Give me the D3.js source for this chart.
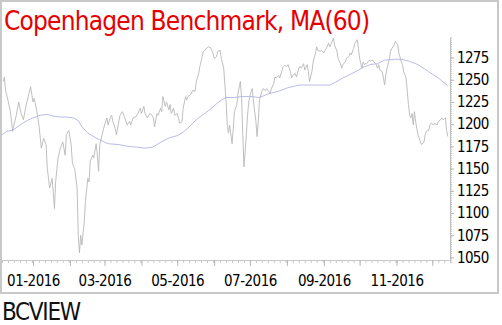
<!DOCTYPE html>
<html>
<head>
<meta charset="utf-8">
<script src="https://cdn.jsdelivr.net/npm/d3@7"></script>
<style>
  body { margin: 0; background: #fff; }
  svg { display: block; }
</style>
</head>
<body>
<div id="chart"></div>
<script>
// daily closes
const priceDates = [
  "2015-12-07","2015-12-08","2015-12-09","2015-12-11","2015-12-13","2015-12-15","2015-12-16","2015-12-18","2015-12-20","2015-12-22",
  "2015-12-24","2015-12-26","2015-12-28","2015-12-30","2016-01-01","2016-01-02","2016-01-04","2016-01-06","2016-01-08","2016-01-10",
  "2016-01-12","2016-01-13","2016-01-15","2016-01-17","2016-01-18","2016-01-19","2016-01-20","2016-01-22","2016-01-24","2016-01-26",
  "2016-01-28","2016-01-29","2016-01-31","2016-02-02","2016-02-03","2016-02-04","2016-02-05","2016-02-07","2016-02-08","2016-02-09",
  "2016-02-10","2016-02-11","2016-02-13","2016-02-14","2016-02-16","2016-02-17","2016-02-18","2016-02-20","2016-02-21","2016-02-23",
  "2016-02-24","2016-02-25","2016-02-26","2016-02-28","2016-03-01","2016-03-03","2016-03-04","2016-03-06","2016-03-07","2016-03-08",
  "2016-03-10","2016-03-11","2016-03-13","2016-03-14","2016-03-16","2016-03-18","2016-03-20","2016-03-22","2016-03-23","2016-03-25",
  "2016-03-27","2016-03-29","2016-03-31","2016-04-01","2016-04-03","2016-04-04","2016-04-06","2016-04-08","2016-04-10","2016-04-11",
  "2016-04-12","2016-04-14","2016-04-15","2016-04-17","2016-04-18","2016-04-19","2016-04-21","2016-04-22","2016-04-24","2016-04-25",
  "2016-04-26","2016-04-28","2016-04-29","2016-05-01","2016-05-02","2016-05-03","2016-05-05","2016-05-06","2016-05-08","2016-05-09",
  "2016-05-10","2016-05-12","2016-05-13","2016-05-14","2016-05-16","2016-05-17","2016-05-19","2016-05-20","2016-05-22","2016-05-23",
  "2016-05-24","2016-05-26","2016-05-27","2016-05-29","2016-05-30","2016-05-31","2016-06-01","2016-06-03","2016-06-04","2016-06-06",
  "2016-06-07","2016-06-09","2016-06-10","2016-06-11","2016-06-12","2016-06-13","2016-06-14","2016-06-16","2016-06-17","2016-06-18",
  "2016-06-20","2016-06-21","2016-06-23","2016-06-24","2016-06-25","2016-06-26","2016-06-28","2016-06-29","2016-06-30","2016-07-02",
  "2016-07-03","2016-07-04","2016-07-06","2016-07-07","2016-07-08","2016-07-09","2016-07-11","2016-07-12","2016-07-14","2016-07-15",
  "2016-07-16","2016-07-18","2016-07-19","2016-07-21","2016-07-22","2016-07-23","2016-07-25","2016-07-26","2016-07-28","2016-07-29",
  "2016-07-30","2016-08-01","2016-08-02","2016-08-04","2016-08-05","2016-08-06","2016-08-08","2016-08-09","2016-08-11","2016-08-12",
  "2016-08-13","2016-08-15","2016-08-16","2016-08-18","2016-08-19","2016-08-20","2016-08-22","2016-08-23","2016-08-25","2016-08-26",
  "2016-08-27","2016-08-29","2016-08-30","2016-09-01","2016-09-02","2016-09-03","2016-09-05","2016-09-06","2016-09-08","2016-09-09",
  "2016-09-10","2016-09-12","2016-09-13","2016-09-15","2016-09-16","2016-09-17","2016-09-19","2016-09-20","2016-09-22","2016-09-23",
  "2016-09-24","2016-09-26","2016-09-27","2016-09-29","2016-09-30","2016-10-01","2016-10-03","2016-10-04","2016-10-05","2016-10-06",
  "2016-10-07","2016-10-09","2016-10-10","2016-10-12","2016-10-13","2016-10-15","2016-10-16","2016-10-17","2016-10-18","2016-10-20",
  "2016-10-21","2016-10-22","2016-10-23","2016-10-24","2016-10-26","2016-10-27","2016-10-28","2016-10-30","2016-10-31","2016-11-02",
  "2016-11-03","2016-11-05","2016-11-06","2016-11-07","2016-11-09","2016-11-10","2016-11-11","2016-11-12","2016-11-13","2016-11-14",
  "2016-11-15","2016-11-16","2016-11-17","2016-11-18","2016-11-19","2016-11-21","2016-11-22","2016-11-24","2016-11-25","2016-11-26",
  "2016-11-28","2016-11-29","2016-11-30","2016-12-02","2016-12-03","2016-12-05","2016-12-06","2016-12-08","2016-12-09","2016-12-10",
  "2016-12-12","2016-12-13","2016-12-14"
];
const priceValues = [
  1248,1253,1238,1227,1214,1192,1199,1210,1225,1212,
  1205,1220,1231,1242,1225,1229,1216,1199,1173,1184,
  1177,1150,1128,1139,1124,1105,1135,1162,1173,1180,
  1165,1188,1193,1177,1158,1152,1150,1128,1075,1055,
  1075,1064,1090,1113,1139,1135,1158,1165,1162,1178,
  1165,1147,1177,1188,1199,1207,1199,1208,1210,1203,
  1195,1188,1203,1210,1214,1207,1199,1203,1199,1207,
  1208,1212,1218,1212,1220,1212,1207,1212,1210,1207,
  1197,1212,1210,1218,1214,1231,1220,1225,1216,1222,
  1212,1218,1210,1212,1207,1201,1203,1218,1231,1227,
  1231,1233,1235,1238,1237,1248,1257,1265,1276,1282,
  1283,1286,1287,1286,1283,1280,1274,1276,1282,1283,
  1274,1263,1244,1225,1199,1190,1199,1178,1195,1214,
  1222,1235,1248,1229,1188,1152,1188,1210,1225,1237,
  1240,1225,1203,1186,1203,1227,1237,1240,1238,1240,
  1238,1235,1240,1246,1253,1252,1255,1252,1261,1265,
  1266,1265,1267,1259,1252,1255,1257,1253,1263,1265,
  1263,1268,1261,1267,1259,1248,1259,1270,1280,1287,
  1283,1282,1283,1280,1283,1285,1291,1287,1293,1297,
  1289,1282,1274,1268,1263,1267,1270,1274,1276,1280,
  1278,1285,1291,1295,1285,1274,1263,1270,1267,1268,
  1268,1272,1271,1272,1270,1267,1263,1267,1261,1259,
  1252,1244,1255,1263,1274,1282,1285,1289,1293,1289,
  1280,1270,1267,1259,1252,1237,1222,1210,1207,1212,
  1199,1214,1203,1195,1188,1180,1177,1180,1188,1192,
  1193,1199,1201,1199,1201,1199,1203,1205,1207,1205,
  1207,1193,1186
];

// 60 day moving average
const maDates = [
  "2015-12-06","2015-12-10","2015-12-15","2015-12-21","2015-12-27","2016-01-01","2016-01-07","2016-01-13","2016-01-18","2016-01-24",
  "2016-01-29","2016-02-04","2016-02-08","2016-02-11","2016-02-16","2016-02-22","2016-02-28","2016-03-04","2016-03-13","2016-03-21",
  "2016-03-29","2016-04-04","2016-04-10","2016-04-14","2016-04-19","2016-04-25","2016-05-01","2016-05-06","2016-05-12","2016-05-17",
  "2016-05-23","2016-05-29","2016-06-03","2016-06-07","2016-06-11","2016-06-18","2016-06-24","2016-07-03","2016-07-08","2016-07-11",
  "2016-07-16","2016-07-25","2016-08-02","2016-08-11","2016-08-20","2016-08-29","2016-09-06","2016-09-12","2016-09-17","2016-09-23",
  "2016-09-29","2016-10-04","2016-10-10","2016-10-16","2016-10-22","2016-10-31","2016-11-05","2016-11-11","2016-11-19","2016-11-28",
  "2016-12-06","2016-12-14"
];
const maValues = [
  1188,1192,1193,1199,1204,1207,1210,1211,1209,1208,
  1208,1207,1204,1197,1190,1185,1181,1178,1177,1175,
  1174,1173,1174,1177,1181,1185,1187,1191,1198,1205,
  1211,1217,1223,1227,1230,1230,1231,1231,1230,1231,
  1234,1237,1241,1244,1244,1244,1244,1248,1252,1256,
  1260,1264,1267,1268,1272,1273,1273,1271,1267,1259,
  1252,1243
];

const yTickValues = [1050, 1075, 1100, 1125, 1150, 1175, 1200, 1225, 1250, 1275];
const monthTicks = ["2016-01-01","2016-02-01","2016-03-01","2016-04-01","2016-05-01","2016-06-01",
  "2016-07-01","2016-08-01","2016-09-01","2016-10-01","2016-11-01","2016-12-01"];
const titleText = "Copenhagen Benchmark, MA(60)";
const footerText = "BCVIEW";

const width = 502, height = 325;
const parse = d3.timeParse("%Y-%m-%d");
const fontFamily = "'DejaVu Sans Condensed', 'DejaVu Sans', sans-serif";

const svg = d3.select("#chart").append("svg")
  .attr("width", width)
  .attr("height", height);

// frame
svg.append("rect")
  .attr("x", 1).attr("y", 1)
  .attr("width", 497).attr("height", 292)
  .attr("fill", "none")
  .attr("stroke", "#c8c8c8")
  .attr("stroke-width", 2);

const x = d3.scaleTime()
  .domain([parse("2015-12-06"), parse("2016-12-15")])
  .range([2, 449]);

const y = d3.scaleLinear()
  .domain([1045, 1297.5])
  .range([261.9, 37.5]);

const price = priceDates.map((d, i) => ({date: parse(d), value: priceValues[i]}));
const ma = maDates.map((d, i) => ({date: parse(d), value: maValues[i]}));

const line = d3.line()
  .x(d => x(d.date))
  .y(d => y(d.value));

svg.append("path")
  .datum(price)
  .attr("fill", "none")
  .attr("stroke", "#b8b8b8")
  .attr("stroke-width", 0.9)
  .attr("d", line);

svg.append("path")
  .datum(ma)
  .attr("fill", "none")
  .attr("stroke", "#b2b2e8")
  .attr("stroke-width", 0.9)
  .attr("d", line);

// right axis, minor ticks first
svg.append("g")
  .attr("transform", "translate(450,0)")
  .call(d3.axisRight(y).tickValues(d3.range(1045, 1297.6, 2.5)).tickSize(2).tickSizeOuter(0).tickFormat(""))
  .call(g => g.selectAll("line, path").attr("stroke", "#c0c0c0"));

const yAxis = svg.append("g")
  .attr("transform", "translate(450,0)")
  .call(d3.axisRight(y).tickValues(yTickValues).tickSize(4).tickPadding(3).tickFormat(d3.format("d")));
yAxis.select(".domain").remove();
yAxis.selectAll("line").attr("stroke", "#b4b4b4");
yAxis.selectAll("text")
  .attr("fill", "#000")
  .style("font-family", fontFamily)
  .style("font-size", "15px")
  .style("letter-spacing", "-0.7px");

// bottom axis
svg.append("g")
  .attr("transform", "translate(0,260)")
  .call(d3.axisBottom(x).ticks(d3.timeDay.every(5)).tickSize(3).tickSizeOuter(0).tickFormat(""))
  .call(g => g.selectAll("line, path").attr("stroke", "#c8c8c8"));

const xAxis = svg.append("g")
  .attr("transform", "translate(0,260)")
  .call(d3.axisBottom(x).tickValues(monthTicks.map(parse)).tickSize(6).tickPadding(9)
    .tickFormat(d => d.getMonth() % 2 === 0 ? d3.timeFormat("%m-%Y")(d) : ""));
xAxis.select(".domain").remove();
xAxis.selectAll("line").attr("stroke", "#b8b8b8");
xAxis.selectAll("text")
  .attr("fill", "#000")
  .style("font-family", fontFamily)
  .style("font-size", "15px")
  .style("letter-spacing", "-0.5px");

svg.append("text")
  .attr("x", 4)
  .attr("y", 30)
  .attr("fill", "#e60000")
  .style("font-family", fontFamily)
  .style("font-size", "26px")
  .style("letter-spacing", "-0.8px")
  .text(titleText);

svg.append("text")
  .attr("x", 2)
  .attr("y", 320)
  .attr("fill", "#111")
  .style("font-family", fontFamily)
  .style("font-size", "24px")
  .style("letter-spacing", "-1.3px")
  .text(footerText);
</script>
</body>
</html>
